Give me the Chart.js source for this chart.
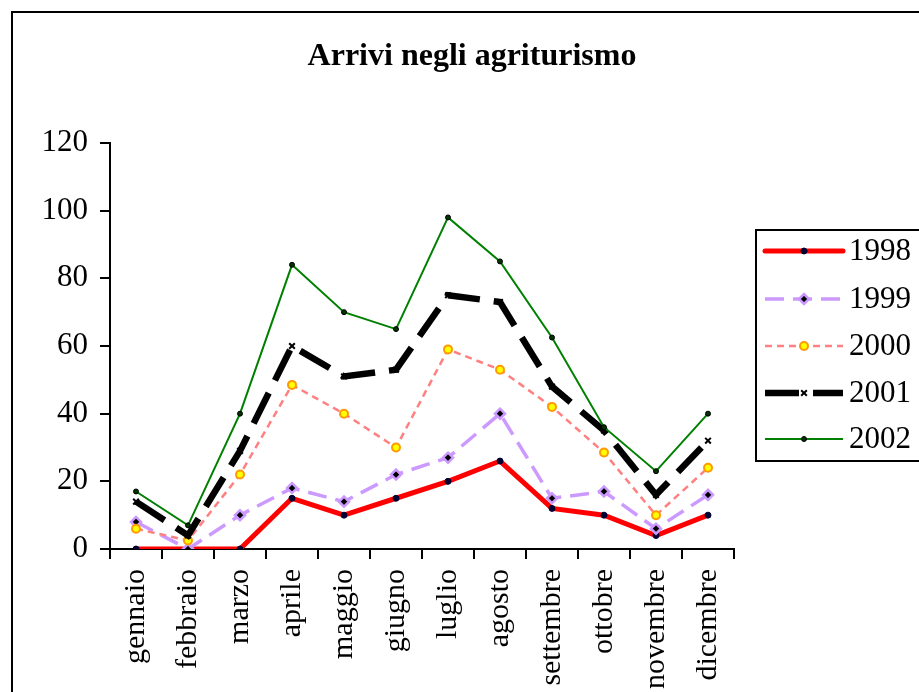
<!DOCTYPE html>
<html>
<head>
<meta charset="utf-8">
<script src="https://cdn.jsdelivr.net/npm/chart.js@4.4.1/dist/chart.umd.min.js"></script>
<style>
  html, body { margin: 0; padding: 0; background: #fff; overflow: hidden; }
  #wrap { width: 919px; height: 692px; position: relative; }
</style>
</head>
<body>
<div id="wrap"><canvas id="chart" width="919" height="692"></canvas></div>
<script>
// Arrivi negli agriturismo

const MONTHS = ['gennaio', 'febbraio', 'marzo', 'aprile', 'maggio', 'giugno',
  'luglio', 'agosto', 'settembre', 'ottobre', 'novembre', 'dicembre'];

const Y1998 = [0, 0, 0, 15, 10, 15, 20, 26, 12, 10, 4, 10];
const Y1999 = [8, 0, 10, 18, 14, 22, 27, 40, 15, 17, 6, 16];
const Y2000 = [6, 2.5, 22, 48.5, 40, 30, 59, 53, 42, 28.5, 10, 24];
const Y2001 = [14, 4, 29, 60, 51, 53, 75, 73, 48, 35, 16, 32];
const Y2002 = [17, 7, 40, 84, 70, 65, 98, 85, 62.5, 36, 23, 40];

const Y_TICKS = [0, 20, 40, 60, 80, 100, 120];
const TITLE = 'Arrivi negli agriturismo';

const SERIF = "'Liberation Serif', 'Times New Roman', serif";

// stile di ogni serie (stile Excel)
const SERIES = [
  { label: '1998', data: Y1998, color: '#ff0000', width: 5, dash: [],
    point: 'circle', radius: 3, pointBg: '#000033', pointBorder: '#000033', pointBw: 1 },
  { label: '1999', data: Y1999, color: '#cc99ff', width: 3.5, dash: [19, 9],
    point: 'rectRot', radius: 5, pointBg: '#000000', pointBorder: '#cc99ff', pointBw: 2.5 },
  { label: '2000', data: Y2000, color: '#ff8080', width: 2.5, dash: [7, 5],
    point: 'circle', radius: 4, pointBg: '#ffff00', pointBorder: '#ff9900', pointBw: 2 },
  { label: '2001', data: Y2001, color: '#000000', width: 6.5, dash: [34, 14],
    point: 'crossRot', radius: 4, pointBg: '#000000', pointBorder: '#000000', pointBw: 2 },
  { label: '2002', data: Y2002, color: '#008000', width: 2, dash: [],
    point: 'circle', radius: 2.5, pointBg: '#003300', pointBorder: '#000000', pointBw: 1 }
];

// cornice, titolo e legenda disegnati a mano
const decor = {
  id: 'decor',
  afterDraw(chart) {
    const ctx = chart.ctx;
    ctx.save();

    // cornice esterna (esce dal bordo destro e inferiore)
    ctx.strokeStyle = '#000';
    ctx.lineWidth = 2;
    ctx.setLineDash([]);
    ctx.strokeRect(12, 12, 1000, 1000);

    // titolo
    ctx.fillStyle = '#000';
    ctx.font = 'bold 32px ' + SERIF;
    ctx.textAlign = 'center';
    ctx.textBaseline = 'middle';
    ctx.fillText(TITLE, 472, 57);

    // legenda
    ctx.lineWidth = 2;
    ctx.strokeRect(756, 230, 170, 231);
    const ys = [251, 299, 346, 393, 439];
    SERIES.forEach((s, i) => {
      const y = ys[i];
      ctx.strokeStyle = s.color;
      ctx.lineWidth = s.width;
      ctx.lineCap = s.width >= 5 && !s.dash.length ? 'round' : 'butt';
      ctx.setLineDash(s.dash);
      ctx.beginPath();
      ctx.moveTo(765, y);
      ctx.lineTo(843, y);
      ctx.stroke();
      ctx.setLineDash([]);
      ctx.fillStyle = s.pointBg;
      ctx.strokeStyle = s.pointBorder;
      ctx.lineWidth = s.pointBw;
      Chart.helpers.drawPoint(ctx, {
        pointStyle: s.point, radius: s.radius, rotation: 0, borderWidth: s.pointBw
      }, 804, y);
      ctx.fillStyle = '#000';
      ctx.font = '31px ' + SERIF;
      ctx.textAlign = 'left';
      ctx.textBaseline = 'middle';
      ctx.fillText(s.label, 849, y + 1);
    });

    ctx.restore();
  }
};

new Chart(document.getElementById('chart'), {
  type: 'line',
  data: {
    labels: MONTHS,
    datasets: SERIES.map((s, i) => ({
      label: s.label,
      data: s.data,
      borderColor: s.color,
      borderWidth: s.width,
      borderDash: s.dash,
      tension: 0,
      fill: false,
      pointStyle: s.point,
      pointRadius: s.radius,
      pointBackgroundColor: s.pointBg,
      pointBorderColor: s.pointBorder,
      pointBorderWidth: s.pointBw,
      order: SERIES.length - i
    }))
  },
  options: {
    responsive: false,
    animation: false,
    layout: { padding: { left: 0, right: 185, top: 143, bottom: 0 } },
    plugins: {
      legend: { display: false },
      title: { display: false },
      tooltip: { enabled: false }
    },
    scales: {
      x: {
        offset: true,
        afterFit(scale) { scale.height = 143; },
        grid: {
          offset: true,
          drawOnChartArea: false,
          drawTicks: true,
          tickLength: 10,
          color: '#000',
          lineWidth: 2
        },
        border: { display: true, color: '#000', width: 2 },
        ticks: {
          autoSkip: false,
          minRotation: 90,
          maxRotation: 90,
          padding: 10,
          color: '#000',
          font: { family: SERIF, size: 30 }
        }
      },
      y: {
        min: 0,
        max: 120,
        afterFit(scale) { scale.width = 110; },
        afterBuildTicks(scale) { scale.ticks = Y_TICKS.map(v => ({ value: v })); },
        grid: {
          drawOnChartArea: false,
          drawTicks: true,
          tickLength: 10,
          color: '#000',
          lineWidth: 2
        },
        border: { display: true, color: '#000', width: 2 },
        ticks: {
          padding: 12,
          color: '#000',
          font: { family: SERIF, size: 31 }
        }
      }
    }
  },
  plugins: [decor]
});
</script>
</body>
</html>
